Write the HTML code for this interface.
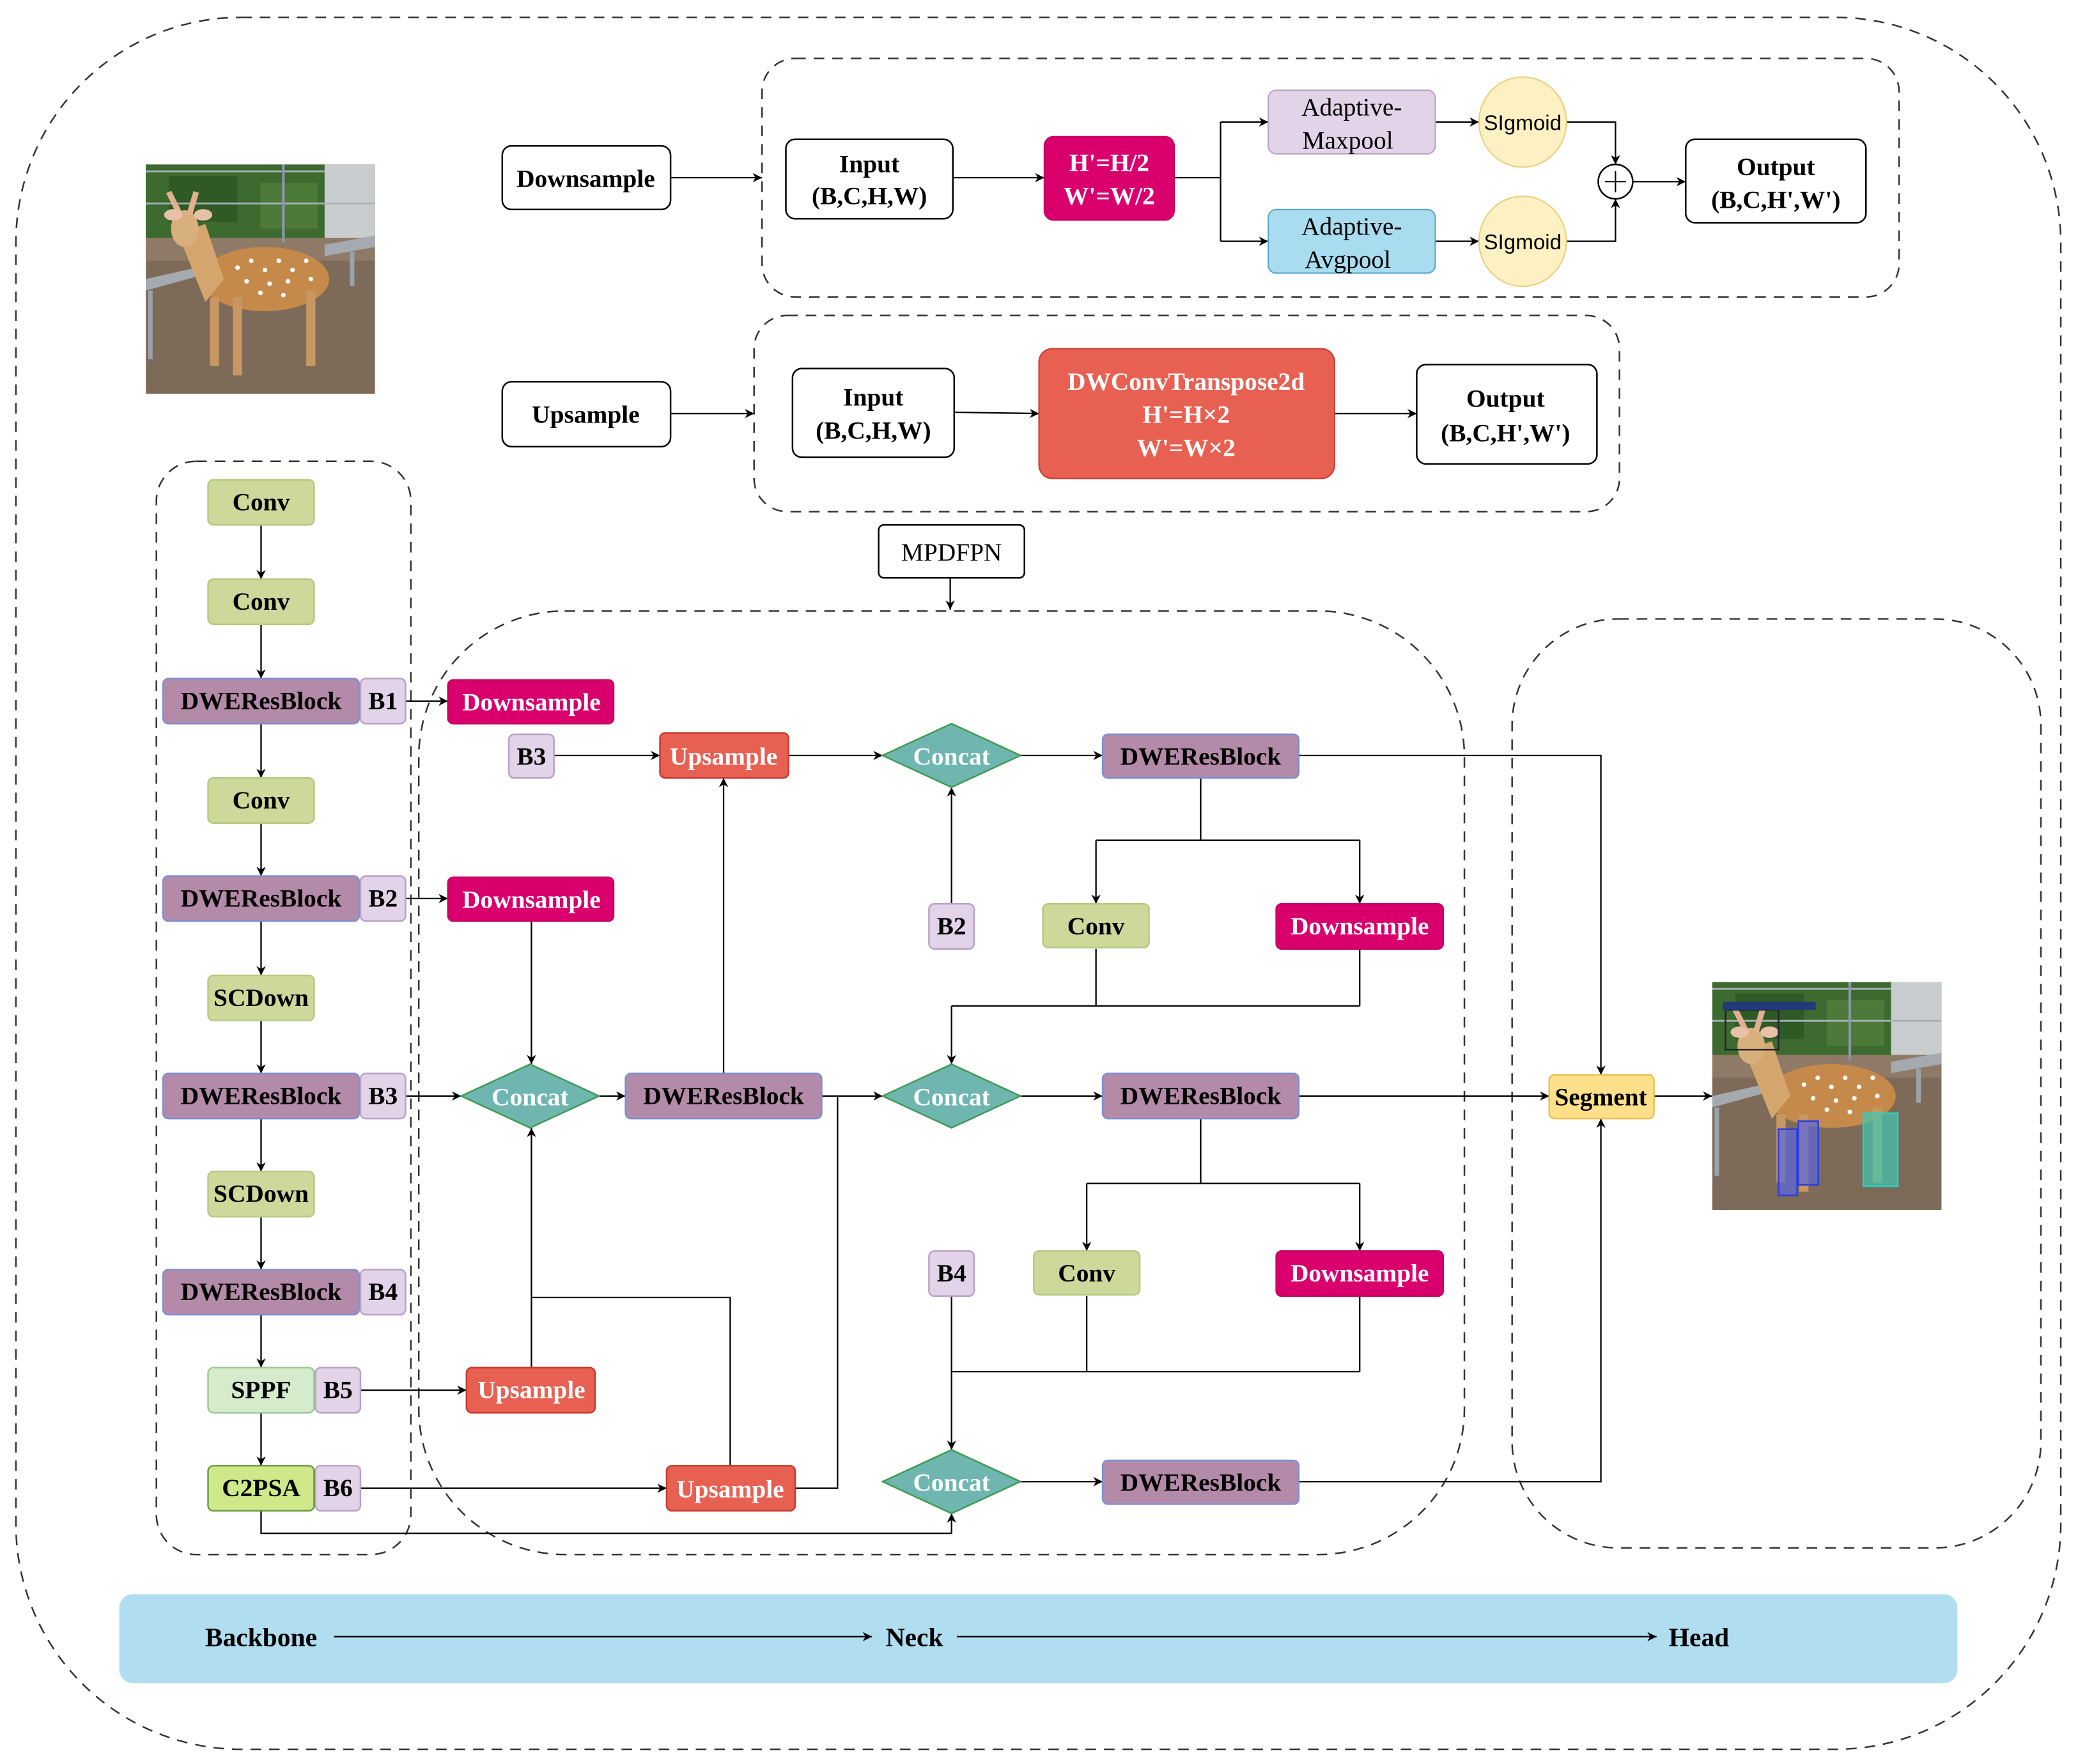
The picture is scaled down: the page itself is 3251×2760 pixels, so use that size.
<!DOCTYPE html>
<html><head><meta charset="utf-8"><style>
html,body{margin:0;padding:0;background:#fff;}
svg{display:block}
text{font-family:"Liberation Serif",serif;}
</style></head><body>
<svg width="3251" height="2760" viewBox="0 0 1568 1331" xmlns="http://www.w3.org/2000/svg">
<defs>
<marker id="a" viewBox="0 0 10 10" refX="10" refY="5" markerWidth="7" markerHeight="7" orient="auto-start-reverse" markerUnits="userSpaceOnUse"><path d="M0,0 L10,5 L0,10 L3,5 z" fill="#000"/></marker>
<symbol id="photo" viewBox="0 0 100 100" preserveAspectRatio="none">
<rect x="0" y="0" width="100" height="100" fill="#7d6a58"/>
<rect x="0" y="0" width="100" height="32" fill="#3d6a2e"/>
<rect x="10" y="5" width="30" height="20" fill="#2f5a25"/>
<rect x="50" y="8" width="25" height="20" fill="#4c7a38"/>
<rect x="78" y="0" width="22" height="32" fill="#c9cdd0"/>
<rect x="0" y="32" width="100" height="10" fill="#8e7a66"/>
<line x1="0" y1="3" x2="78" y2="3" stroke="#a8b0b8" stroke-width="0.8"/>
<line x1="0" y1="17" x2="100" y2="17" stroke="#a8b0b8" stroke-width="0.8"/>
<line x1="60" y1="0" x2="60" y2="34" stroke="#8a96a8" stroke-width="1.2"/>
<path d="M0,50 L22,45 L22,49 L0,55 z" fill="#a4aab0"/>
<path d="M78,35 L100,31 L100,36 L78,40 z" fill="#a4aab0"/>
<rect x="1" y="55" width="2" height="30" fill="#9aa2aa"/>
<rect x="89" y="38" width="2" height="15" fill="#9aa2aa"/>
<ellipse cx="52" cy="50" rx="28" ry="14" fill="#c58a4a"/>
<path d="M14,30 L26,26 L34,50 L26,60 z" fill="#d4a66e"/>
<ellipse cx="17" cy="28" rx="6" ry="8" fill="#d8b07e"/>
<path d="M10,12 L15,22 M22,12 L19,22" stroke="#e0b090" stroke-width="2.5"/>
<ellipse cx="12" cy="22" rx="4" ry="2.5" fill="#e8c0a8"/>
<ellipse cx="25" cy="22" rx="4" ry="2.5" fill="#e8c0a8"/>
<rect x="28" y="58" width="4" height="30" fill="#c89660"/>
<rect x="38" y="58" width="4" height="34" fill="#c89660"/>
<rect x="70" y="55" width="4" height="33" fill="#c89660"/>
<g fill="#fff"><circle cx="40" cy="45" r="1"/><circle cx="46" cy="42" r="1"/><circle cx="52" cy="46" r="1"/><circle cx="58" cy="42" r="1"/><circle cx="64" cy="46" r="1"/><circle cx="70" cy="42" r="1"/><circle cx="44" cy="51" r="1"/><circle cx="54" cy="52" r="1"/><circle cx="62" cy="51" r="1"/><circle cx="72" cy="50" r="1"/><circle cx="50" cy="56" r="1"/><circle cx="60" cy="57" r="1"/></g>
</symbol>
</defs>
<rect width="1568" height="1331" fill="#fff"/>

<g fill="none" stroke="#333" stroke-width="1.2" stroke-dasharray="8,6">
<rect x="12" y="13" width="1543" height="1307" rx="170" ry="170"/>
<rect x="575" y="44" width="858" height="180" rx="25"/>
<rect x="569" y="238" width="653" height="148" rx="25"/>
<rect x="118" y="348" width="192" height="825" rx="30"/>
<rect x="316" y="461" width="789" height="712" rx="110"/>
<rect x="1141" y="467" width="399" height="701" rx="80"/>
</g>

<use href="#photo" x="110" y="124" width="173" height="173"/>
<use href="#photo" x="1292" y="741" width="173" height="172"/>
<g fill="none" stroke-width="1.2">
<rect x="1342" y="852" width="14" height="50" stroke="#2c3ce0" fill="#5a68e0" fill-opacity="0.7"/>
<rect x="1357" y="846" width="15" height="48" stroke="#2c3ce0" fill="#5a68e0" fill-opacity="0.7"/>
<rect x="1406" y="840" width="26" height="55" stroke="#2cd0c0" fill="#40c8b0" fill-opacity="0.7"/>
<rect x="1302" y="762" width="40" height="30" stroke="#223" />
<rect x="1300" y="756" width="70" height="6" fill="#223a7a" stroke="none"/>
</g>

<!-- edges -->
<g stroke="#000" stroke-width="1.1" fill="none">
<path d="M506,134 H575" marker-end="url(#a)"/>
<path d="M719,134 H788" marker-end="url(#a)"/>
<path d="M886,134 H921 M921,92 V182"/>
<path d="M921,92 H957" marker-end="url(#a)"/>
<path d="M921,182 H957" marker-end="url(#a)"/>
<path d="M1083,92 H1116" marker-end="url(#a)"/>
<path d="M1083,182 H1116" marker-end="url(#a)"/>
<path d="M1182,92 H1219 V124" marker-end="url(#a)"/>
<path d="M1182,182 H1219 V150" marker-end="url(#a)"/>
<path d="M1232,137 H1272" marker-end="url(#a)"/>
<path d="M506,312 H569" marker-end="url(#a)"/>
<path d="M720,311 L784,312" marker-end="url(#a)"/>
<path d="M1007,312 H1069" marker-end="url(#a)"/>
<path d="M717,436 V460" marker-end="url(#a)"/>

<path d="M197,396 V437" marker-end="url(#a)"/>
<path d="M197,471 V512" marker-end="url(#a)"/>
<path d="M197,546 V587" marker-end="url(#a)"/>
<path d="M197,621 V661" marker-end="url(#a)"/>
<path d="M197,695 V736" marker-end="url(#a)"/>
<path d="M197,770 V810" marker-end="url(#a)"/>
<path d="M197,844 V884" marker-end="url(#a)"/>
<path d="M197,918 V958" marker-end="url(#a)"/>
<path d="M197,992 V1032" marker-end="url(#a)"/>
<path d="M197,1066 V1106" marker-end="url(#a)"/>

<path d="M306,529 H338" marker-end="url(#a)"/>
<path d="M306,678 H338" marker-end="url(#a)"/>
<path d="M306,827 H348" marker-end="url(#a)"/>
<path d="M272,1049 H352" marker-end="url(#a)"/>
<path d="M272,1123 H503" marker-end="url(#a)"/>
<path d="M197,1140 V1157 H718 V1142" marker-end="url(#a)"/>

<path d="M418,570 H498" marker-end="url(#a)"/>
<path d="M595,570 H666" marker-end="url(#a)"/>
<path d="M770,570 H832" marker-end="url(#a)"/>
<path d="M980,570 H1208 V811" marker-end="url(#a)"/>
<path d="M718,682 V594" marker-end="url(#a)"/>
<path d="M906,587 V634 M827,634 H1026"/>
<path d="M827,634 V682" marker-end="url(#a)"/>
<path d="M1026,634 V682" marker-end="url(#a)"/>
<path d="M827,716 V759 M1026,716 V759 M718,759 H1026"/>
<path d="M718,759 V803" marker-end="url(#a)"/>
<path d="M401,695 V803" marker-end="url(#a)"/>
<path d="M452,827 H472" marker-end="url(#a)"/>
<path d="M546,810 V587" marker-end="url(#a)"/>
<path d="M620,827 H666" marker-end="url(#a)"/>
<path d="M770,827 H832" marker-end="url(#a)"/>
<path d="M980,827 H1169" marker-end="url(#a)"/>
<path d="M1248,827 H1292" marker-end="url(#a)"/>
<path d="M906,844 V893 M820,893 H1026"/>
<path d="M820,893 V944" marker-end="url(#a)"/>
<path d="M1026,893 V944" marker-end="url(#a)"/>
<path d="M820,978 V1035 M1026,978 V1035 M718,1035 H1026"/>
<path d="M718,978 V1094" marker-end="url(#a)"/>
<path d="M401,1032 V851" marker-end="url(#a)"/>
<path d="M401,979 H551 V1106"/>
<path d="M600,1123 H632 V827"/>
<path d="M770,1118 H832" marker-end="url(#a)"/>
<path d="M980,1118 H1208 V844" marker-end="url(#a)"/>
</g>

<!-- top nodes -->
<g stroke="#000" stroke-width="1.2" fill="#fff">
<rect x="379" y="110" width="127" height="48" rx="7"/>
<rect x="593" y="105" width="126" height="60" rx="7"/>
<rect x="1272" y="105" width="136" height="63" rx="7"/>
<rect x="379" y="288" width="127" height="49" rx="7"/>
<rect x="598" y="278" width="122" height="67" rx="7"/>
<rect x="1069" y="275" width="136" height="75" rx="7"/>
<rect x="663" y="396" width="110" height="40" rx="4"/>
<circle cx="1219" cy="137" r="13"/>
</g>
<rect x="788" y="103" width="98" height="63" rx="7" fill="#d9006e" stroke="#c8005e"/>
<rect x="957" y="68" width="126" height="48" rx="6" fill="#e2d3e8" stroke="#b9a0c4"/>
<rect x="957" y="158" width="126" height="48" rx="6" fill="#a9dcef" stroke="#5aa6c8"/>
<ellipse cx="1149" cy="92" rx="33" ry="34" fill="#fdf1c4" stroke="#e8cf7a"/>
<ellipse cx="1149" cy="182" rx="33" ry="34" fill="#fdf1c4" stroke="#e8cf7a"/>
<rect x="784" y="263" width="223" height="98" rx="10" fill="#e86052" stroke="#c83a30"/>
<path d="M1211,137 H1227 M1219,129 V145" stroke="#000" stroke-width="1"/>

<g font-size="19" text-anchor="middle" font-weight="bold">
<text x="442" y="141">Downsample</text>
<text x="656" y="130">Input</text><text x="656" y="154">(B,C,H,W)</text>
<text x="837" y="129" fill="#fff">H'=H/2</text><text x="837" y="154" fill="#fff">W'=W/2</text>
<text x="1340" y="132">Output</text><text x="1340" y="157">(B,C,H',W')</text>
<text x="442" y="319">Upsample</text>
<text x="659" y="306">Input</text><text x="659" y="331">(B,C,H,W)</text>
<text x="895" y="294" fill="#fff">DWConvTranspose2d</text>
<text x="895" y="319" fill="#fff">H'=H×2</text>
<text x="895" y="344" fill="#fff">W'=W×2</text>
<text x="1136" y="307">Output</text><text x="1136" y="333">(B,C,H',W')</text>
</g>
<g font-size="19" text-anchor="middle">
<text x="1020" y="87">Adaptive-</text><text x="1017" y="112">Maxpool</text>
<text x="1020" y="177">Adaptive-</text><text x="1017" y="202">Avgpool</text>
<text x="718" y="423">MPDFPN</text>
</g>
<g font-size="16" text-anchor="middle" font-family="Liberation Sans,sans-serif">
<text x="1149" y="98" style="font-family:'Liberation Sans',sans-serif">SIgmoid</text>
<text x="1149" y="188" style="font-family:'Liberation Sans',sans-serif">SIgmoid</text>
</g>

<!-- backbone nodes -->
<g stroke-width="1.2">
<g fill="#cdd89a" stroke="#b8c880">
<rect x="157" y="362" width="80" height="34" rx="4"/>
<rect x="157" y="437" width="80" height="34" rx="4"/>
<rect x="157" y="587" width="80" height="34" rx="4"/>
<rect x="157" y="736" width="80" height="34" rx="4"/>
<rect x="157" y="884" width="80" height="34" rx="4"/>
<rect x="787" y="682" width="80" height="33" rx="4"/>
<rect x="780" y="944" width="80" height="33" rx="4"/>
</g>
<g fill="#b48aa9" stroke="#7d8fd0">
<rect x="123" y="512" width="148" height="34" rx="4"/>
<rect x="123" y="661" width="148" height="34" rx="4"/>
<rect x="123" y="810" width="148" height="34" rx="4"/>
<rect x="123" y="958" width="148" height="34" rx="4"/>
<rect x="832" y="554" width="148" height="33" rx="4"/>
<rect x="472" y="810" width="148" height="34" rx="4"/>
<rect x="832" y="810" width="148" height="34" rx="4"/>
<rect x="832" y="1102" width="148" height="33" rx="4"/>
</g>
<g fill="#e2d3e8" stroke="#b9a0c4">
<rect x="272" y="512" width="34" height="34" rx="4"/>
<rect x="272" y="661" width="34" height="34" rx="4"/>
<rect x="272" y="810" width="34" height="34" rx="4"/>
<rect x="272" y="958" width="34" height="34" rx="4"/>
<rect x="238" y="1032" width="34" height="34" rx="4"/>
<rect x="238" y="1106" width="34" height="34" rx="4"/>
<rect x="384" y="554" width="34" height="33" rx="4"/>
<rect x="701" y="682" width="34" height="34" rx="4"/>
<rect x="701" y="944" width="34" height="34" rx="4"/>
</g>
<rect x="157" y="1032" width="80" height="34" rx="4" fill="#d6ebcc" stroke="#9cc890"/>
<rect x="157" y="1106" width="80" height="34" rx="4" fill="#cfe98a" stroke="#6a9a40"/>
<g fill="#d9006e" stroke="#c8005e">
<rect x="338" y="513" width="125" height="33" rx="4"/>
<rect x="338" y="662" width="125" height="33" rx="4"/>
<rect x="963" y="682" width="126" height="34" rx="4"/>
<rect x="963" y="944" width="126" height="34" rx="4"/>
</g>
<g fill="#e86052" stroke="#c83a30">
<rect x="498" y="553" width="97" height="34" rx="4"/>
<rect x="352" y="1032" width="97" height="34" rx="4"/>
<rect x="503" y="1106" width="97" height="34" rx="4"/>
</g>
<g fill="#6fb6b1" stroke="#3f9a50">
<path d="M666,570 L718,546 L770,570 L718,594 z"/>
<path d="M348,827 L400,803 L452,827 L400,851 z"/>
<path d="M666,827 L718,803 L770,827 L718,851 z"/>
<path d="M666,1118 L718,1094 L770,1118 L718,1142 z"/>
</g>
<rect x="1169" y="811" width="79" height="33" rx="4" fill="#ffe08a" stroke="#e8c050"/>
</g>

<g font-size="19" text-anchor="middle" font-weight="bold">
<text x="197" y="385">Conv</text>
<text x="197" y="460">Conv</text>
<text x="197" y="610">Conv</text>
<text x="197" y="759">SCDown</text>
<text x="197" y="907">SCDown</text>
<text x="827" y="705">Conv</text>
<text x="820" y="967">Conv</text>
<text x="197" y="535">DWEResBlock</text>
<text x="197" y="684">DWEResBlock</text>
<text x="197" y="833">DWEResBlock</text>
<text x="197" y="981">DWEResBlock</text>
<text x="906" y="577">DWEResBlock</text>
<text x="546" y="833">DWEResBlock</text>
<text x="906" y="833">DWEResBlock</text>
<text x="906" y="1125">DWEResBlock</text>
<text x="289" y="535">B1</text>
<text x="289" y="684">B2</text>
<text x="289" y="833">B3</text>
<text x="289" y="981">B4</text>
<text x="255" y="1055">B5</text>
<text x="255" y="1129">B6</text>
<text x="401" y="577">B3</text>
<text x="718" y="705">B2</text>
<text x="718" y="967">B4</text>
<text x="197" y="1055">SPPF</text>
<text x="197" y="1129">C2PSA</text>
<text x="1208" y="834">Segment</text>
<g fill="#fff">
<text x="401" y="536">Downsample</text>
<text x="401" y="685">Downsample</text>
<text x="1026" y="705">Downsample</text>
<text x="1026" y="967">Downsample</text>
<text x="546" y="577">Upsample</text>
<text x="401" y="1055">Upsample</text>
<text x="551" y="1130">Upsample</text>
<text x="718" y="577">Concat</text>
<text x="400" y="834">Concat</text>
<text x="718" y="834">Concat</text>
<text x="718" y="1125">Concat</text>
</g>
</g>

<!-- banner -->
<rect x="90" y="1203" width="1387" height="67" rx="10" fill="#b0def0"/>
<g stroke="#000" stroke-width="1.1">
<path d="M252,1235 H658" marker-end="url(#a)"/>
<path d="M722,1235 H1250" marker-end="url(#a)"/>
</g>
<g font-size="20" font-weight="bold" text-anchor="middle">
<text x="197" y="1242">Backbone</text>
<text x="690" y="1242">Neck</text>
<text x="1282" y="1242">Head</text>
</g>
</svg>
</body></html>
